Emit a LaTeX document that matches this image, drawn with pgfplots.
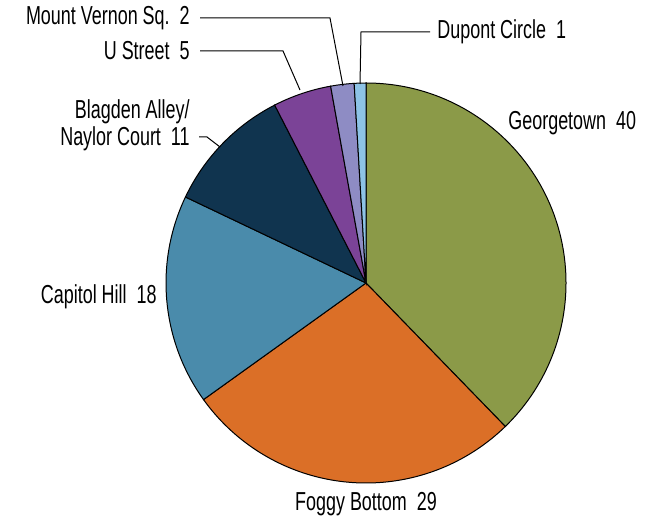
\documentclass[border=0pt]{standalone}
\usepackage{fontspec}
\setmainfont{Liberation Sans}[FakeStretch=0.69]
\usepackage{pgfplots}
\usepackage{pgfplotstable}
\pgfplotsset{compat=1.18}

\definecolor{pie0}{HTML}{8B9A48}
\definecolor{pie1}{HTML}{DB6F27}
\definecolor{pie2}{HTML}{4A8BAB}
\definecolor{pie3}{HTML}{10344F}
\definecolor{pie4}{HTML}{7B4397}
\definecolor{pie5}{HTML}{8E8CC4}
\definecolor{pie6}{HTML}{8DC3E6}

% neighbourhood counts, clockwise from 12 o'clock
\pgfplotstableread{
value
40
29
18
11
5
2
1
}\piedata

\begin{document}
\begin{tikzpicture}
\begin{axis}[
    name=ax,
    scale only axis, width=331pt, height=259pt,
    xmin=-1.83, xmax=1.48, ymin=-1.175, ymax=1.415,
    hide axis, clip=false,
]
\pgfplotsextra{%
  \def\total{0}%
  \pgfplotsforeachungrouped \i in {0,...,6}{%
    \pgfplotstablegetelem{\i}{value}\of\piedata
    \pgfmathsetmacro\total{\total+\pgfplotsretval}}%
  \def\cum{0}%
  \pgfplotsforeachungrouped \i in {0,...,6}{%
    \pgfplotstablegetelem{\i}{value}\of\piedata
    \pgfmathsetmacro\aA{90-360*(\cum/\total)}%
    \pgfmathsetmacro\cum{\cum+\pgfplotsretval}%
    \pgfmathsetmacro\aB{90-360*(\cum/\total)}%
    \filldraw[fill=pie\i, draw=black, line width=0.5pt]
      (axis cs:0,0) -- (axis cs:{cos(\aA)},{sin(\aA)})
      arc[start angle=\aA, end angle=\aB, radius=100pt] -- cycle;
  }%
}
% leader lines
\draw[line width=0.5pt] (axis cs:-0.83,1.325) -- (axis cs:-0.18,1.325) -- (axis cs:-0.115,0.985);
\draw[line width=0.5pt] (axis cs:-0.83,1.16) -- (axis cs:-0.415,1.16) -- (axis cs:-0.33,0.965);
\draw[line width=0.5pt] (axis cs:0.32,1.255) -- (axis cs:-0.025,1.255) -- (axis cs:-0.03,0.995);
\draw[line width=0.5pt] (axis cs:-0.835,0.73) -- (axis cs:-0.795,0.73) -- (axis cs:-0.73,0.68);
% labels
\begin{scope}[every node/.style={font=\fontsize{13}{13.5}\selectfont, inner sep=0pt}]
\node[anchor=west] at (axis cs:0.71,0.80) {Georgetown~~40};
\node[anchor=center] at (axis cs:0,-1.105) {Foggy Bottom~~29};
\node[anchor=east] at (axis cs:-1.045,-0.07) {Capitol Hill~~18};
\node[anchor=east, align=right] at (axis cs:-0.88,0.79) {Blagden Alley/\\Naylor Court~~11};
\node[anchor=east] at (axis cs:-0.88,1.16) {U Street~~5};
\node[anchor=east] at (axis cs:-0.88,1.325) {Mount Vernon Sq.~~2};
\node[anchor=west] at (axis cs:0.355,1.255) {Dupont Circle~~1};
\end{scope}
\end{axis}
\pgfresetboundingbox
\path[use as bounding box] (ax.south west) rectangle (ax.north east);
\end{tikzpicture}
\end{document}
